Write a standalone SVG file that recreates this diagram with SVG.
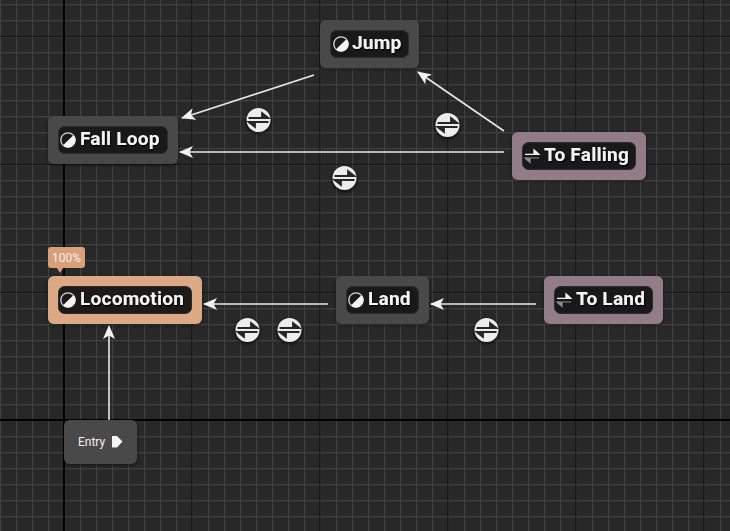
<svg xmlns="http://www.w3.org/2000/svg" width="730" height="531" viewBox="0 0 730 531">
<style>
.lab{font-family:"Roboto","Liberation Sans",sans-serif;font-weight:700;font-size:19px;fill:#f4f4f4;letter-spacing:.25px;filter:url(#sh)}
.gray{fill:#4a4a4a;filter:url(#nsh)}.pink{fill:#927c86;filter:url(#nsh)}.tan{fill:#dba985;filter:url(#nsh)}
.pill{fill:#191919;stroke:#2c2c2c;stroke-width:1}
.wire{stroke:#e8e8e8;stroke-width:1.6;fill:none;marker-end:url(#arr)}
</style>
<defs>
<filter id="sh" x="-10%" y="-20%" width="120%" height="150%"><feDropShadow dx="1" dy="1.500" stdDeviation=".6" flood-color="#000" flood-opacity=".9"/></filter>
<filter id="nsh" x="-10%" y="-15%" width="120%" height="135%"><feDropShadow dx="0" dy="1.500" stdDeviation="1.500" flood-color="#000" flood-opacity=".45"/></filter>
<filter id="blur" x="-30%" y="-30%" width="160%" height="160%"><feGaussianBlur stdDeviation="1.200"/></filter>
<pattern id="minor" width="16" height="16" patternUnits="userSpaceOnUse" x="0" y="4">
<path d="M0 .5H16M.5 0V16" stroke="#404040" stroke-width="1.300" fill="none"/>
</pattern>
<marker id="arr" viewBox="0 0 14 12" markerWidth="14" markerHeight="12" refX="13" refY="6" orient="auto" markerUnits="userSpaceOnUse">
<path d="M14 6L0 0L3.500 6L0 12Z" fill="#f2f2f2"/>
</marker>
<symbol id="st" viewBox="0 0 16 16" overflow="visible">
<circle cx="8" cy="8" r="7.200" fill="#1a1a1a" stroke="#d8d8d8" stroke-width="1.300"/>
<path d="M13.400 3.200A7.200 7.200 0 0 1 3 13.200Z" fill="#f4f4f4"/>
</symbol>
<symbol id="tr" viewBox="0 0 16 16" overflow="visible">
<path d="M1 6.300H15M10 1.800L15 6.300H10Z" stroke="#f0f0f0" fill="#f0f0f0" stroke-width="1.200"/>
<path d="M1 10H15M6 14.500L1 10H6Z" stroke="#8c8c8c" fill="#8c8c8c" stroke-width="1.200"/>
</symbol>
<g id="rule">
<circle r="13" fill="#000" opacity=".5" cy="1.500" filter="url(#blur)"/>
<circle r="12" fill="#ececec"/>
<path d="M-10-2H10M3.500-7L10-2H3.500ZM-10 2H10M-3.500 7L-10 2H-3.500Z" stroke="#262626" fill="#262626" stroke-width="1.800"/>
</g>
</defs>
<rect width="730" height="531" fill="#282828"/>
<rect width="730" height="531" fill="url(#minor)"/>
<g stroke="#151515" stroke-width="1.200" fill="none">
<path d="M192 0V531M320 0V531M448 0V531M576 0V531M704 0V531M0 36.500H730M0 164.500H730M0 292.500H730"/>
</g>
<g stroke="#000" stroke-width="2" fill="none"><path d="M64 0V531M0 420H730"/></g>
<g id="connectors">
<path class="wire" d="M314 75L182 118"/>
<path class="wire" d="M504 131L418 72"/>
<path class="wire" d="M504 152H180"/>
<path class="wire" d="M328 304H204"/>
<path class="wire" d="M536 304H431"/>
<path class="wire" d="M109 420V326"/>
<use href="#rule" x="258.500" y="120"/>
<use href="#rule" x="447.500" y="125"/>
<use href="#rule" x="344.500" y="178"/>
<use href="#rule" x="247.500" y="330"/>
<use href="#rule" x="289.500" y="330"/>
<use href="#rule" x="486.500" y="330"/>
</g>
<g id="jump">
<rect class="gray" x="320" y="20" width="99" height="48" rx="6"/>
<rect class="pill" x="330.500" y="30.500" width="78" height="27" rx="6"/>
<use href="#st" x="333" y="36" width="16" height="16"/>
<text class="lab" x="352" y="49">Jump</text>
</g>
<g id="fall-loop">
<rect class="gray" x="48" y="116" width="130" height="48" rx="6"/>
<rect class="pill" x="58.500" y="126.500" width="109" height="27" rx="6"/>
<use href="#st" x="60" y="132" width="16" height="16"/>
<text class="lab" x="80" y="145">Fall Loop</text>
</g>
<g id="to-falling">
<rect class="pink" x="512" y="132" width="134" height="48" rx="6"/>
<rect class="pill" x="522.500" y="142.500" width="113" height="27" rx="6"/>
<use href="#tr" x="524" y="148" width="16" height="16"/>
<text class="lab" x="544" y="161">To Falling</text>
</g>
<g id="locomotion">
<path d="M48 250a3 3 0 0 1 3-3h31a3 3 0 0 1 3 3v15a3 3 0 0 1-3 3H63l-3 5-3-5h-6a3 3 0 0 1-3-3z" fill="#d79f7a"/>
<text x="66.500" y="262" text-anchor="middle" font-family="Roboto,'Liberation Sans',sans-serif" font-size="12" fill="#f8f0ea">100%</text>
<rect class="tan" x="48" y="276" width="154" height="48" rx="6"/>
<rect class="pill" x="58.500" y="286.500" width="133" height="27" rx="6" style="fill:#1d1a17"/>
<use href="#st" x="60" y="292" width="16" height="16"/>
<text class="lab" x="80" y="305">Locomotion</text>
</g>
<g id="land">
<rect class="gray" x="336" y="276" width="93" height="48" rx="6"/>
<rect class="pill" x="346.500" y="286.500" width="72" height="27" rx="6"/>
<use href="#st" x="348" y="292" width="16" height="16"/>
<text class="lab" x="368" y="305">Land</text>
</g>
<g id="to-land">
<rect class="pink" x="544" y="276" width="119" height="48" rx="6"/>
<rect class="pill" x="554.500" y="286.500" width="98" height="27" rx="6"/>
<use href="#tr" x="556" y="292" width="16" height="16"/>
<text class="lab" x="576" y="305">To Land</text>
</g>
<g id="entry">
<rect class="gray" x="64" y="420" width="73" height="44" rx="6"/>
<text x="78" y="446" font-family="Roboto,'Liberation Sans',sans-serif" font-size="12" fill="#f0f0f0">Entry</text>
<path d="M112 436h5l5.500 5.500-5.500 6h-5z" fill="#f6f6f6"/>
</g>
</svg>
